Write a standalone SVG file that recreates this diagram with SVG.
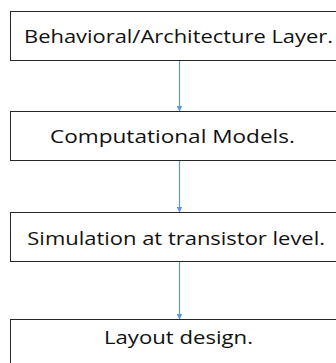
<svg xmlns="http://www.w3.org/2000/svg" width="336" height="363" viewBox="0 0 336 363">
<defs>
<style>
.box{fill:#ffffff;stroke:#262626;stroke-width:1}
.lbl{font-family:"Open Sans","Liberation Sans",sans-serif;font-size:17.5px;fill:#111111}
.conn{stroke:#5b9bd5;stroke-width:1.2;fill:none}
</style>
<marker id="ah" markerWidth="7" markerHeight="6" refX="6" refY="3" orient="auto" markerUnits="userSpaceOnUse">
<path d="M0,0 L6,3 L0,6 Z" fill="#5b9bd5"/>
</marker>
</defs>
<rect width="336" height="363" fill="#ffffff"/>
<g id="connectors">
<line class="conn" x1="179.5" y1="60.5" x2="179.5" y2="111.5" marker-end="url(#ah)"/>
<line class="conn" x1="179.5" y1="160.5" x2="179.5" y2="212.5" marker-end="url(#ah)"/>
<line class="conn" x1="179.5" y1="261.5" x2="179.5" y2="319.5" marker-end="url(#ah)"/>
</g>
<g id="node1">
<rect class="box" x="10.5" y="11.5" width="337" height="49"/>
<text class="lbl" x="24" y="43" textLength="309" lengthAdjust="spacingAndGlyphs">Behavioral/Architecture Layer.</text>
</g>
<g id="node2">
<rect class="box" x="10.5" y="111.5" width="337" height="49"/>
<text class="lbl" x="50" y="143" textLength="245" lengthAdjust="spacingAndGlyphs">Computational Models.</text>
</g>
<g id="node3">
<rect class="box" x="10.5" y="212.5" width="337" height="49"/>
<text class="lbl" x="27.3" y="245" textLength="297.7" lengthAdjust="spacingAndGlyphs">Simulation at transistor level.</text>
</g>
<g id="node4">
<rect class="box" x="10.5" y="319.5" width="337" height="49"/>
<text class="lbl" x="104" y="343.5" textLength="149" lengthAdjust="spacingAndGlyphs">Layout design.</text>
</g>
</svg>
